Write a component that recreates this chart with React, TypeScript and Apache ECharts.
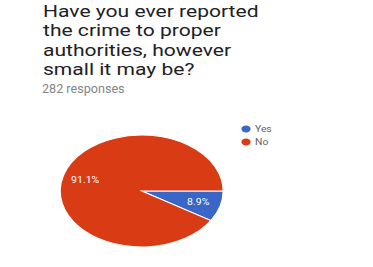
import React, { useEffect, useRef } from "react";
import * as echarts from "echarts";

const titleLines = [
  "Have you ever reported",
  "the crime to proper",
  "authorities, however",
  "small it may be?",
];
const subtitle = "282 responses";
const categories = ["Yes", "No"];
const counts = [25, 257];
const colors = ["#3a66c8", "#d93c14"];

export default function App() {
  const ref = useRef<HTMLDivElement>(null);
  useEffect(() => {
    if (!ref.current) return;
    const chart = echarts.init(ref.current, undefined, { renderer: "svg" });
    const total = counts.reduce((a, b) => a + b, 0);
    const starts: number[] = [];
    let acc = 0;
    counts.forEach((v) => {
      starts.push(acc);
      acc += v;
    });
    const cx = 141.7;
    const cy = 191;
    const ry = 56;
    const rx = 81.6;
    const font = "Roboto, Arial, sans-serif";

    chart.setOption({
      animation: false,
      backgroundColor: "#ffffff",
      graphic: [
        {
          type: "text",
          x: 43,
          y: 1,
          scaleX: 1.24,
          silent: true,
          style: {
            text: titleLines.join("\n"),
            fontFamily: font,
            fontSize: 17,
            lineHeight: 19.5,
            fill: "#202124",
            align: "left",
            verticalAlign: "top",
          },
        },
        {
          type: "text",
          x: 42,
          y: 82.5,
          scaleX: 1.05,
          silent: true,
          style: {
            text: subtitle,
            fontFamily: font,
            fontSize: 12,
            lineHeight: 14,
            fill: "#80868b",
            align: "left",
            verticalAlign: "top",
          },
        },
        ...categories.flatMap((name, i) => [
          {
            type: "ellipse",
            shape: { cx: 246, cy: 129 + i * 13, rx: 4.6, ry: 3.4 },
            style: { fill: colors[i] },
            silent: true,
          },
          {
            type: "text",
            x: 255,
            y: 129 + i * 13,
            scaleX: 1.15,
            style: {
              text: name,
              fill: "#5f6368",
              fontSize: 9,
              fontFamily: font,
              verticalAlign: "middle",
              align: "left",
            },
            silent: true,
          },
        ]),
      ],
      series: [
        {
          type: "custom",
          coordinateSystem: "none",
          data: counts.map((v, i) => ({ name: categories[i], value: v })),
          renderItem: (params: any, api: any) => {
            const i = params.dataIndex;
            const v = api.value(0);
            const a0 = (starts[i] / total) * Math.PI * 2;
            const a1 = ((starts[i] + v) / total) * Math.PI * 2;
            const mid = (a0 + a1) / 2;
            const pct = ((v / total) * 100).toFixed(1) + "%";
            return {
              type: "group",
              children: [
                {
                  type: "group",
                  x: cx,
                  y: cy,
                  scaleX: rx / ry,
                  children: [
                    {
                      type: "sector",
                      shape: { cx: 0, cy: 0, r: ry, r0: 0, startAngle: a0, endAngle: a1, clockwise: true },
                      style: { fill: colors[i], stroke: "#ffffff", lineWidth: 1, strokeNoScale: true },
                    },
                  ],
                },
                {
                  type: "text",
                  x: cx + 0.72 * rx * Math.cos(mid),
                  y: cy + 0.72 * ry * Math.sin(mid),
                  scaleX: 1.17,
                  style: {
                    text: pct,
                    fill: "#ffffff",
                    fontSize: 9,
                    fontFamily: font,
                    align: "center",
                    verticalAlign: "middle",
                  },
                },
              ],
            };
          },
        },
      ],
    });
    return () => chart.dispose();
  }, []);
  return (
    <div
      ref={ref}
      style={{ position: "fixed", left: 0, top: 0, width: 373, height: 267, background: "#fff" }}
    />
  );
}
